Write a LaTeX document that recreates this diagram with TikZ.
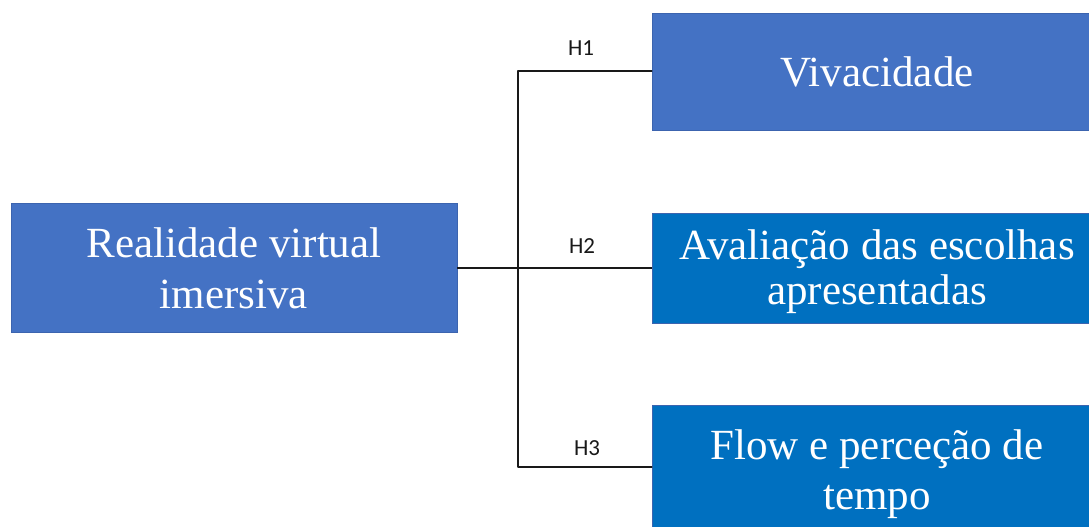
\documentclass[tikz,border=0pt]{standalone}
\usepackage{fontspec}
\setmainfont{Liberation Serif}
\newfontfamily\labfont{Carlito}
\definecolor{boxA}{RGB}{68,114,196}
\definecolor{boxB}{RGB}{0,112,192}
\definecolor{edgeA}{RGB}{60,100,175}
\begin{document}
\begin{tikzpicture}[x=1pt,y=-1pt,
  boxbase/.style={draw=edgeA, line width=0.8pt, text=white, align=center, inner sep=0pt,
     font=\fontsize{43}{51}\selectfont},
  boxone/.style={boxbase, fill=boxA},
  boxtwo/.style={boxbase, fill=boxB},
  boxtext/.style={text=white, align=center, inner sep=0pt},
  conn/.style={draw=black!90, line width=2.2pt},
  hlab/.style={font=\labfont\fontsize{23}{26}\selectfont, text=black!90, inner sep=0pt}]
\useasboundingbox (0,0) rectangle (1089,527);
\clip (0,0) rectangle (1089,527);
\fill[white] (0,0) rectangle (1089,527);
\node[boxone, minimum width=446pt, minimum height=129pt] (rv) at (234,268) {Realidade virtual\\imersiva};
\node[boxone, minimum width=450pt, minimum height=117pt] (viv) at (877,71.5) {Vivacidade};
\node[boxtwo, minimum width=450pt, minimum height=110pt] (ava) at (877,268) {};
\node[boxtext, font=\fontsize{43}{45}\selectfont] (avat) at (877,272) {Avaliação das escolhas\\apresentadas};
\node[boxtwo, minimum width=450pt, minimum height=135pt] (flow) at (877,472.5) {};
\node[boxtext, font=\fontsize{43}{50}\selectfont] (flowt) at (877,474) {Flow e perceção de\\tempo};
\coordinate (j1) at (518,71);
\coordinate (j3) at (518,467);
\draw[conn, line cap=round, line join=round] (viv.west |- j1) -- (j1) -- (j3) -- (flow.west |- j3);
\draw[conn] (rv.east) -- (rv.east -| ava.west);
\node[hlab] (h1) at (581,48) {H1};
\node[hlab] (h2) at (582,246) {H2};
\node[hlab] (h3) at (587,448) {H3};
\end{tikzpicture}
\end{document}
